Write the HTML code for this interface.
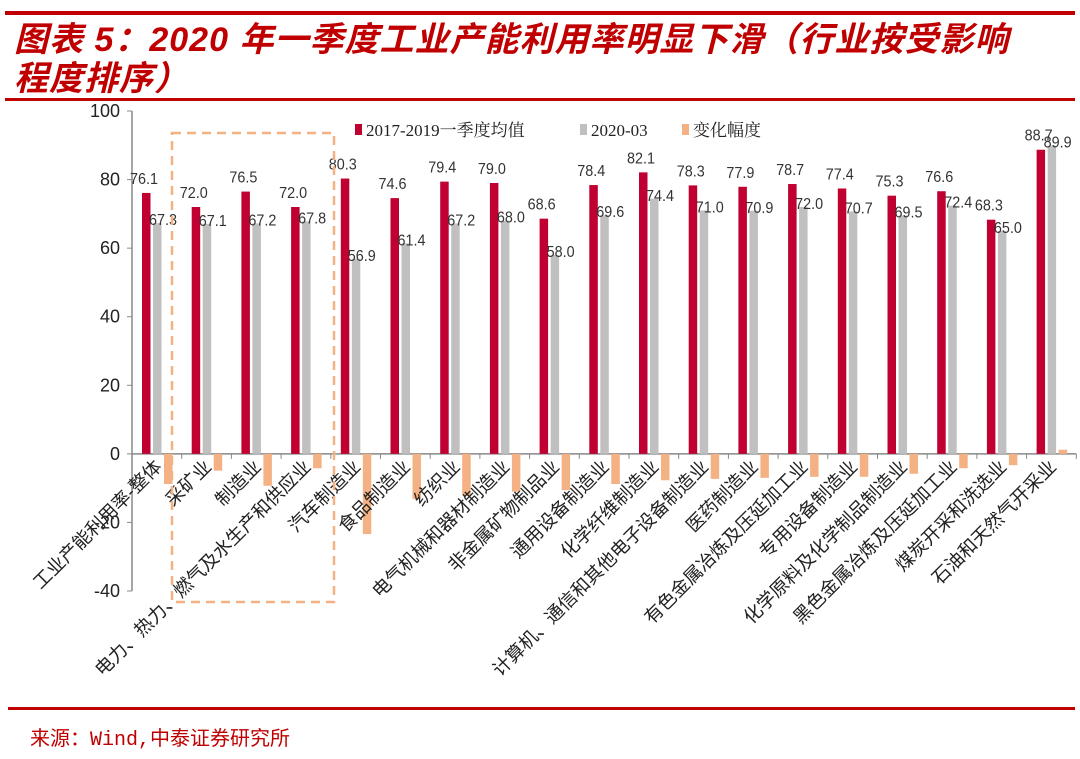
<!DOCTYPE html>
<html><head><meta charset="utf-8"><style>
body{margin:0;background:#fff;width:1080px;height:759px;overflow:hidden;position:relative;font-family:"Liberation Sans","Noto Sans CJK SC",sans-serif}
.t{position:absolute;left:14px;color:#c00000;font-weight:bold;font-style:italic;font-size:34px;letter-spacing:1px;font-family:"Liberation Sans","Noto Sans CJK SC",sans-serif}
</style></head><body>
<div style="position:absolute;left:5px;top:11px;width:1070px;height:4px;background:#c00000"></div>
<div class="t" style="top:21px;line-height:39px">图表 5：2020 年一季度工业产能利用率明显下滑（行业按受影响<br>程度排序）</div>
<div style="position:absolute;left:5px;top:98px;width:1070px;height:3px;background:#c00000"></div>
<svg id="c" width="1080" height="759" style="position:absolute;left:0;top:0"></svg>
<div style="position:absolute;left:8px;top:707px;width:1067px;height:3px;background:#c00000"></div>
<div style="position:absolute;left:30px;top:722px;color:#c00000;font-size:20px;font-family:'Liberation Mono','Noto Sans CJK SC',monospace">来源：Wind,中泰证券研究所</div>
<script>
const categories=["工业产能利用率-整体","采矿业","制造业","电力、热力、燃气及水生产和供应业","汽车制造业","食品制造业","纺织业","电气机械和器材制造业","非金属矿物制品业","通用设备制造业","化学纤维制造业","计算机、通信和其他电子设备制造业","医药制造业","有色金属冶炼及压延加工业","专用设备制造业","化学原料及化学制品制造业","黑色金属冶炼及压延加工业","煤炭开采和洗选业","石油和天然气开采业"];
const avgValues=[76.1,72.0,76.5,72.0,80.3,74.6,79.4,79.0,68.6,78.4,82.1,78.3,77.9,78.7,77.4,75.3,76.6,68.3,88.7];
const q1Values=[67.3,67.1,67.2,67.8,56.9,61.4,67.2,68.0,58.0,69.6,74.4,71.0,70.9,72.0,70.7,69.5,72.4,65.0,89.9];
const changeValues=[-8.8,-4.9,-9.3,-4.2,-23.4,-13.2,-12.2,-11.0,-10.6,-8.8,-7.7,-7.3,-7.0,-6.7,-6.7,-5.8,-4.2,-3.3,1.2];
const yTicks=[100,80,60,40,20,0,-20,-40];
const NS="http://www.w3.org/2000/svg",svg=document.getElementById('c');
const x0=132,gw=49.7,yTop=111,yBot=591;
const y=v=>yTop+(100-v)*(yBot-yTop)/140;
function mk(t,a,p){const e=document.createElementNS(NS,t);for(const k in a)e.setAttribute(k,a[k]);(p||svg).appendChild(e);return e;}
let e=mk('line',{x1:x0,y1:y(100),x2:x0,y2:y(-40),stroke:'#888','stroke-width':1.5});


yTicks.forEach(v=>{mk('line',{x1:x0-5,y1:y(v),x2:x0,y2:y(v),stroke:'#888'});
let t=mk('text',{x:x0-12,y:y(v)+6,'text-anchor':'end','font-size':18,fill:'#222'});t.textContent=v;

});
e=mk('line',{x1:x0,y1:y(0),x2:x0+gw*categories.length,y2:y(0),stroke:'#888','stroke-width':1.5});


categories.forEach((c,i)=>{const gx=x0+i*gw;
mk('line',{x1:gx+gw,y1:y(0),x2:gx+gw,y2:y(0)+5,stroke:'#888'});
const bars=[[avgValues[i],'#c00030',10],[q1Values[i],'#c0c0c0',21],[changeValues[i],'#f4b183',32]];
bars.forEach(([v,col,off],k)=>{const top=Math.min(y(v),y(0)),h=Math.abs(y(v)-y(0));
let r=mk('rect',{x:gx+off,y:top,width:8.5,height:h,fill:col});


if(k<2){let t=mk('text',{x:gx+off+4+(k==0?-2:6),y:y(v)-(k==0?9:-2),'text-anchor':'middle','font-size':16,fill:'#333',textLength:28,lengthAdjust:'spacingAndGlyphs'});t.textContent=v.toFixed(1);

}});
const cx=gx+gw/2+6,cy=y(0)+14;
let t=mk('text',{x:cx,y:cy,'text-anchor':'end','font-size':18.5,fill:'#222',transform:`rotate(-45 ${cx} ${cy})`});t.textContent=c;

});
e=mk('rect',{x:172,y:133,width:162,height:469,fill:'none',stroke:'#f4b183','stroke-width':2.5,'stroke-dasharray':'9,6'});


[['2017-2019一季度均值','#c00030',355],['2020-03','#c0c0c0',580],['变化幅度','#f4b183',682]].forEach(([n,col,lx])=>{
let r=mk('rect',{x:lx,y:124,width:7,height:11,fill:col});


let t=mk('text',{x:lx+11,y:136,'font-size':17,fill:'#222','font-family':'Liberation Serif,Noto Serif CJK SC,serif'});t.textContent=n;

});
</script>
</body></html>
